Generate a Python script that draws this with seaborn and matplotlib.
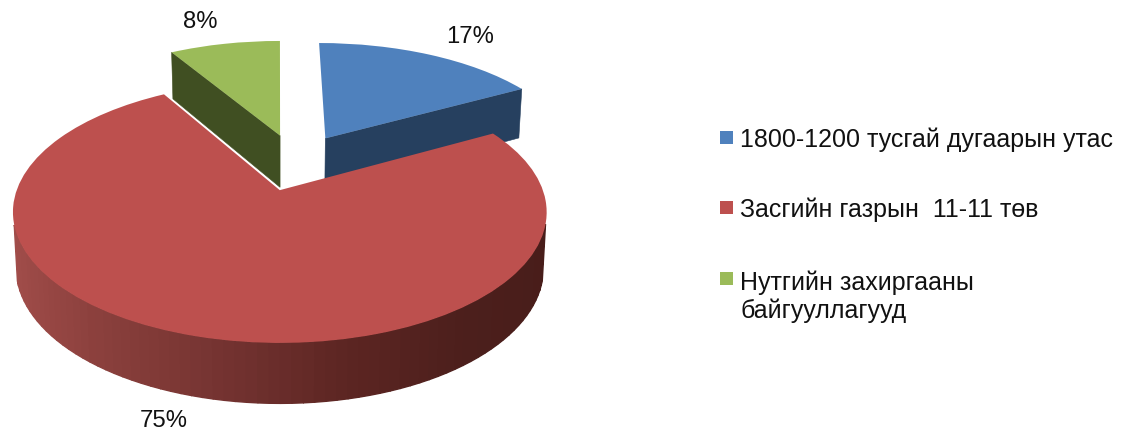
"""Pie 3D (perspectiva) de canales de atencion, con seaborn + matplotlib."""

import matplotlib
matplotlib.use("Agg")
import numpy as np
import matplotlib.pyplot as plt
from matplotlib.patches import Polygon, Rectangle
from matplotlib.transforms import Transform
import seaborn as sns

categories = [
    "1800-1200 тусгай дугаарын утас",
    "Засгийн газрын  11-11 төв",
    "Нутгийн захиргааны\nбайгууллагууд",
]
shares = [17.0, 74.6, 8.4]
top_colors = ["#4F81BD", "#BD504E", "#9BBB59"]
edge_colors = ["#26405F", "#7A3533", "#404F22"]
side_shades = ["#A34E4B", "#8A3F3C", "#743331", "#5C2522", "#4C1F1C", "#481D1A"]

sns.set_theme(style="white")
plt.rcParams["font.family"] = ["Liberation Sans", "DejaVu Sans"]

# parametros de la perspectiva, en pixeles de la imagen
EXPLODE = 0.24
APEX_X, APEX_Y = 279, 190
SHIFT_X, SHIFT_Y = 0.067, 0.23
RADIUS_X, RADIUS_Y = 263, 127
DEPTH = 0.168
LINE_PX = 30


def proyectar(x, y, drop=0.0):
    """Pasa coordenadas del disco a pixeles; drop=1 es la cara de abajo."""
    xs = np.asarray(x) + SHIFT_X
    ys = np.asarray(y) + SHIFT_Y
    p = 1 / (1 + DEPTH * ys)
    px = APEX_X + RADIUS_X * xs * p * (1 - 0.012 * drop)
    py = APEX_Y - RADIUS_Y * ys * p + drop * (54.5 - 6 * ys)
    return px, py


class Proyeccion(Transform):
    input_dims = output_dims = 2
    is_separable = False
    has_inverse = False

    def transform_non_affine(self, values):
        px, py = proyectar(values[:, 0], values[:, 1])
        return np.column_stack([px, py])


def cara(ax, x, y, color, lw=0.4):
    """Dibuja una cara lateral entre dos puntos del borde superior."""
    xa, ya = proyectar(x, y)
    xb, yb = proyectar(x[::-1], y[::-1], drop=1.0)
    pts = np.column_stack([np.r_[xa, xb], np.r_[ya, yb]])
    ax.add_patch(Polygon(pts, closed=True, facecolor=color, edgecolor=color, lw=lw))


fig = plt.figure(figsize=(11.27, 4.32), dpi=100)
ax = fig.add_axes([0, 0, 1, 1])

wedges, _ = ax.pie(
    shares,
    explode=[EXPLODE] * len(shares),
    colors=top_colors,
    startangle=90,
    counterclock=False,
    wedgeprops={"linewidth": 0},
)
ax.set_aspect("auto")
ax.set_xlim(0, 1127)
ax.set_ylim(432, 0)
ax.axis("off")

proy = Proyeccion() + ax.transData
for w in wedges:
    w.set_transform(proy)
    w.set_zorder(5)

# caras radiales que se ven: verde y azul
blue, red, green = wedges
for w, ang, col in [(green, green.theta2, edge_colors[2]), (blue, blue.theta1, edge_colors[0])]:
    cx, cy = w.center
    t = np.deg2rad(ang)
    cara(ax, np.array([cx, cx + np.cos(t)]), np.array([cy, cy + np.sin(t)]), col)

# lateral del sector rojo, con degradado (solo la parte de delante)
cx, cy = red.center
angs = np.linspace(red.theta1, red.theta2, 130)
shades = sns.blend_palette(side_shades, n_colors=300)
for a0, a1 in zip(angs[:-1], angs[1:]):
    t = np.deg2rad([a0, a1])
    xs = cx + np.cos(t)
    ys = cy + np.sin(t)
    if ys.max() + SHIFT_Y > -0.25:
        continue
    u = (np.cos(t[0]) + 1) / 2
    cara(ax, xs, ys, shades[int(u * 299)], lw=1.0)

# etiquetas de porcentaje
label_pos = [(470, 37), (164, 421), (200, 22)]
for v, (tx, ty) in zip(shares, label_pos):
    ax.text(tx, ty, f"{v:.0f}%", fontsize=17.2, color="#111111", ha="center", va="center")

# leyenda a mano: el cuadro va alineado con la primera linea del texto
legend_base = [147, 217, 288]
for name, col, base in zip(categories, top_colors, legend_base):
    ax.add_patch(Rectangle((720, base - 16), 13, 13, facecolor=col, edgecolor="none"))
    last_line = base + LINE_PX * name.count("\n")
    ax.text(740, last_line, name, fontsize=18, color="#111111", ha="left", va="baseline", linespacing=1.2)

fig.savefig("out.png", dpi=100)
